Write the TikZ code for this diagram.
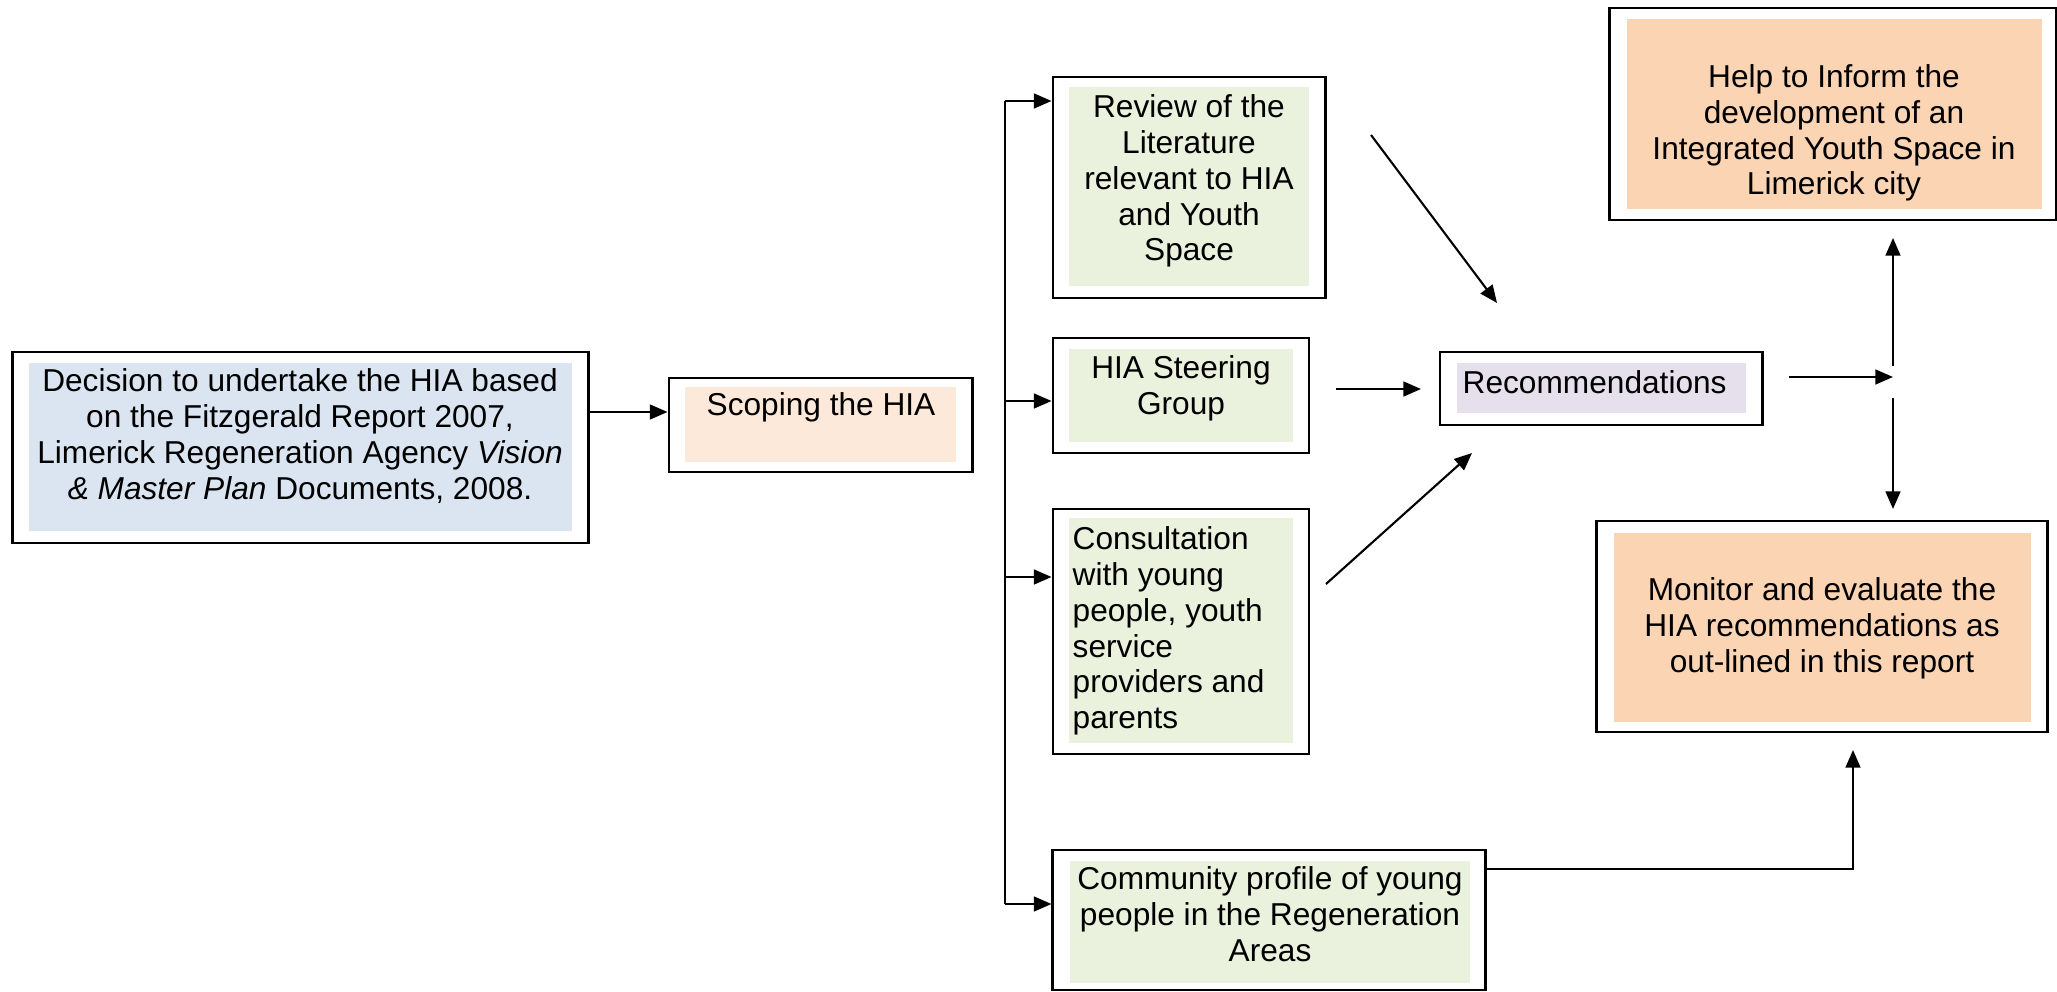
\documentclass[tikz,border=0pt]{standalone}
\usepackage{fontspec}
\setmainfont{Liberation Sans}
\usetikzlibrary{arrows.meta}
\definecolor{padblue}{HTML}{DBE5F1}
\definecolor{padpeach}{HTML}{FDE9D9}
\definecolor{padgreen}{HTML}{EAF1DD}
\definecolor{padlilac}{HTML}{E5E0EC}
\definecolor{padorange}{HTML}{FBD4B4}
\newcommand{\boxfont}{\fontsize{9}{10.2}\selectfont}
\tikzset {
  >={Triangle[length=5pt,width=4.2pt]},
  every node/.style={font=\boxfont},
  frame/.style={draw, line width=0.8pt, inner sep=0pt},
  pad/.style={fill=#1, inner sep=0pt},
  label text/.style={inner sep=0pt, align=center},
  link/.style={->, line width=0.6pt},
  wire/.style={line width=0.6pt},
}

\begin{document}
\begin{tikzpicture}[x=0.01cm,y=-0.01cm]
          \path[use as bounding box, fill=white] (0,0) rectangle (2057,992);
          % boxes: frame, coloured pad, text
          \node[frame, minimum width=5.75cm, minimum height=1.91cm] (decision) at (300.5,447.5) {};
          \node[pad=padblue, minimum width=5.43cm, minimum height=1.68cm] (decision-pad) at (300.5,447) {};
          \node[label text] (decision-text) at (300,436) {Decision to undertake the HIA based\\on the Fitzgerald Report 2007,\\Limerick Regeneration Agency \textit{Vision}\\\textit{\& Master Plan} Documents, 2008.};
          \node[frame, minimum width=3.03cm, minimum height=0.94cm] (scoping) at (820.5,425) {};
          \node[pad=padpeach, minimum width=2.71cm, minimum height=0.75cm] (scoping-pad) at (820.5,424.5) {};
          \node[label text] (scoping-text) at (821,407) {Scoping the HIA};
          \node[frame, minimum width=2.72cm, minimum height=2.21cm] (review) at (1189,187.5) {};
          \node[pad=padgreen, minimum width=2.40cm, minimum height=1.99cm] (review-pad) at (1189,186.5) {};
          \node[label text] (review-text) at (1189,181) {Review of the\\Literature\\relevant to HIA\\and Youth\\Space};
          \node[frame, minimum width=2.56cm, minimum height=1.15cm] (steering) at (1181,395.5) {};
          \node[pad=padgreen, minimum width=2.24cm, minimum height=0.93cm] (steering-pad) at (1181,395.5) {};
          \node[label text] (steering-text) at (1181,388) {HIA Steering\\Group};
          \node[frame, minimum width=2.56cm, minimum height=2.45cm] (consult) at (1181,631.5) {};
          \node[pad=padgreen, minimum width=2.24cm, minimum height=2.25cm] (consult-pad) at (1181,630.5) {};
          \node[label text, align=left, anchor=west] (consult-text) at (1072,631) {Consultation\\with young\\people, youth\\service\\providers and\\parents};
          \node[frame, minimum width=4.32cm, minimum height=1.40cm] (community) at (1269,920) {};
          \node[pad=padgreen, minimum width=4.00cm, minimum height=1.22cm] (community-pad) at (1270,922) {};
          \node[label text] (community-text) at (1270,914) {Community profile of young\\people in the Regeneration\\Areas};
          \node[frame, minimum width=3.22cm, minimum height=0.73cm] (rec) at (1601,388.5) {};
          \node[pad=padlilac, minimum width=2.89cm, minimum height=0.50cm] (rec-pad) at (1601.5,388) {};
          \node[label text, anchor=west] (rec-text) at (1462,382) {Recommendations};
          \node[frame, minimum width=4.46cm, minimum height=2.12cm] (help) at (1833,114) {};
          \node[pad=padorange, minimum width=4.15cm, minimum height=1.90cm] (help-pad) at (1834.5,114) {};
          \node[label text] (help-text) at (1834,133) {Help to Inform the\\development of an\\Integrated Youth Space in\\Limerick city};
          \node[frame, minimum width=4.50cm, minimum height=2.11cm] (monitor) at (1822,626.5) {};
          \node[pad=padorange, minimum width=4.17cm, minimum height=1.89cm] (monitor-pad) at (1822.5,627.5) {};
          \node[label text] (monitor-text) at (1822,628) {Monitor and evaluate the\\HIA recommendations as\\out-lined in this report};
          % free ends of the connectors
          \coordinate (decision-out) at (588,412);
          \coordinate (trunk-top) at (1005,101);
          \coordinate (trunk-mid) at (1005,401);
          \coordinate (trunk-low) at (1005,577);
          \coordinate (trunk-bot) at (1005,904);
          \coordinate (review-out) at (1371,135);
          \coordinate (rec-in-top) at (1497,303);
          \coordinate (steering-out) at (1336,389);
          \coordinate (rec-in-mid) at (1421,389);
          \coordinate (consult-out) at (1326,584);
          \coordinate (rec-in-low) at (1472,453);
          \coordinate (rec-out) at (1789,377);
          \coordinate (split) at (1893,377);
          \coordinate (split-up) at (1893,366);
          \coordinate (help-in) at (1893,238);
          \coordinate (split-down) at (1893,398);
          \coordinate (monitor-in) at (1893,509);
          \coordinate (community-out) at (1485,869);
          \coordinate (monitor-low) at (1853,750);
          % connectors
          \draw[link] (decision-out) -- (decision-out -| scoping.west);
          \draw[wire] (trunk-top) -- (trunk-bot);
          \draw[link] (trunk-top) -- (trunk-top -| review.west);
          \draw[link] (trunk-mid) -- (trunk-mid -| steering.west);
          \draw[link] (trunk-low) -- (trunk-low -| consult.west);
          \draw[link] (trunk-bot) -- (trunk-bot -| community.west);
          \draw[link] (review-out) -- (rec-in-top);
          \draw[link] (steering-out) -- (rec-in-mid);
          \draw[link] (consult-out) -- (rec-in-low);
          \draw[link] (rec-out) -- (split);
          \draw[link] (split-up) -- (help-in);
          \draw[link] (split-down) -- (monitor-in);
          \draw[link] (community-out) -| (monitor-low);
        \end{tikzpicture}
\end{document}
